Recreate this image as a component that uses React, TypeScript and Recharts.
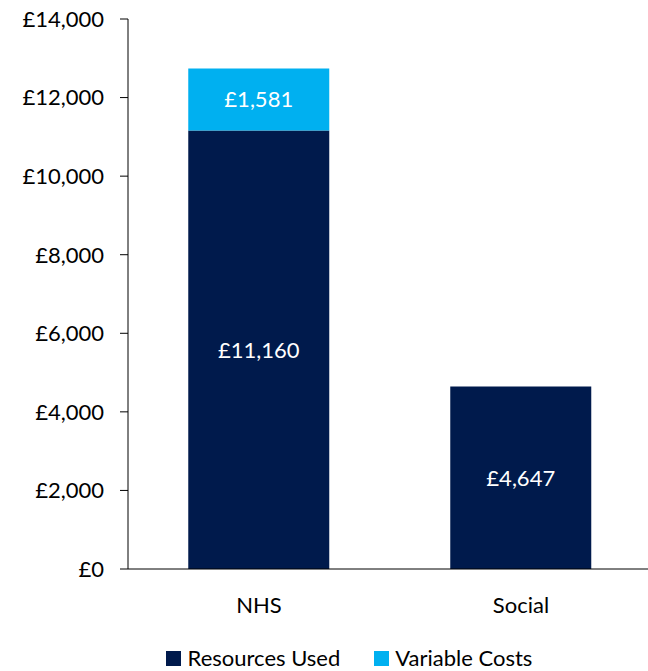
import { BarChart, Bar, XAxis, YAxis, Legend, LabelList } from 'recharts';

const categories: string[] = ['NHS', 'Social'];
const resourcesUsed: number[] = [11160, 4647];
const variableCosts: number[] = [1581, 0];
const yTicks: number[] = [0, 2000, 4000, 6000, 8000, 10000, 12000, 14000];

const colors: string[] = ['#001A4C', '#00B0F0']; // navy, light blue

const data = categories.map((name, i) => ({
  name,
  resources: resourcesUsed[i],
  variable: variableCosts[i],
}));

const money = (v: number) => '£' + v.toLocaleString('en-GB');
const font = "Lato, 'Open Sans', sans-serif";
const fs = 22;

const renderLegend = () => (
  <div style={{ display: 'flex', justifyContent: 'center', fontFamily: font, fontSize: fs, color: '#000', paddingLeft: 46, lineHeight: '26px' }}>
    <span style={{ display: 'flex', alignItems: 'center', marginRight: 34 }}>
      <span style={{ width: 15, height: 15, background: colors[0], marginRight: 7, display: 'inline-block' }} />
      Resources Used
    </span>
    <span style={{ display: 'flex', alignItems: 'center' }}>
      <span style={{ width: 15, height: 15, background: colors[1], marginRight: 6, display: 'inline-block' }} />
      Variable Costs
    </span>
  </div>
);

const App = () => {
  return (
    <div style={{ position: 'absolute', left: 0, top: 0, background: '#fff' }}>
      <BarChart width={648} height={671} data={data} margin={{ top: 19, right: -4, left: 0, bottom: 0 }} barCategoryGap="23%">
        <XAxis
          dataKey="name"
          tickLine={false}
          axisLine={{ stroke: '#000' }}
          tick={{ fill: '#000', fontSize: fs, fontFamily: font }}
          tickMargin={22}
          height={76}
        />
        <YAxis
          width={128}
          domain={[0, 14000]}
          ticks={yTicks}
          tickFormatter={money}
          axisLine={{ stroke: '#000' }}
          tickLine={{ stroke: '#000' }}
          tickSize={8}
          tickMargin={16}
          tick={{ fill: '#000', fontSize: fs, fontFamily: font }}
          interval={0}
        />
        <Legend verticalAlign="bottom" height={26} content={renderLegend} />
        <Bar dataKey="resources" name="Resources Used" stackId="a" fill={colors[0]} isAnimationActive={false}>
          <LabelList dataKey="resources" position="center" formatter={(v: any) => money(Number(v))} fill="#fff" fontSize={fs} fontFamily={font} />
        </Bar>
        <Bar dataKey="variable" name="Variable Costs" stackId="a" fill={colors[1]} isAnimationActive={false}>
          <LabelList dataKey="variable" position="center" formatter={(v: any) => (Number(v) > 0 ? money(Number(v)) : '')} fill="#fff" fontSize={fs} fontFamily={font} />
        </Bar>
      </BarChart>
    </div>
  );
};

export default App;
